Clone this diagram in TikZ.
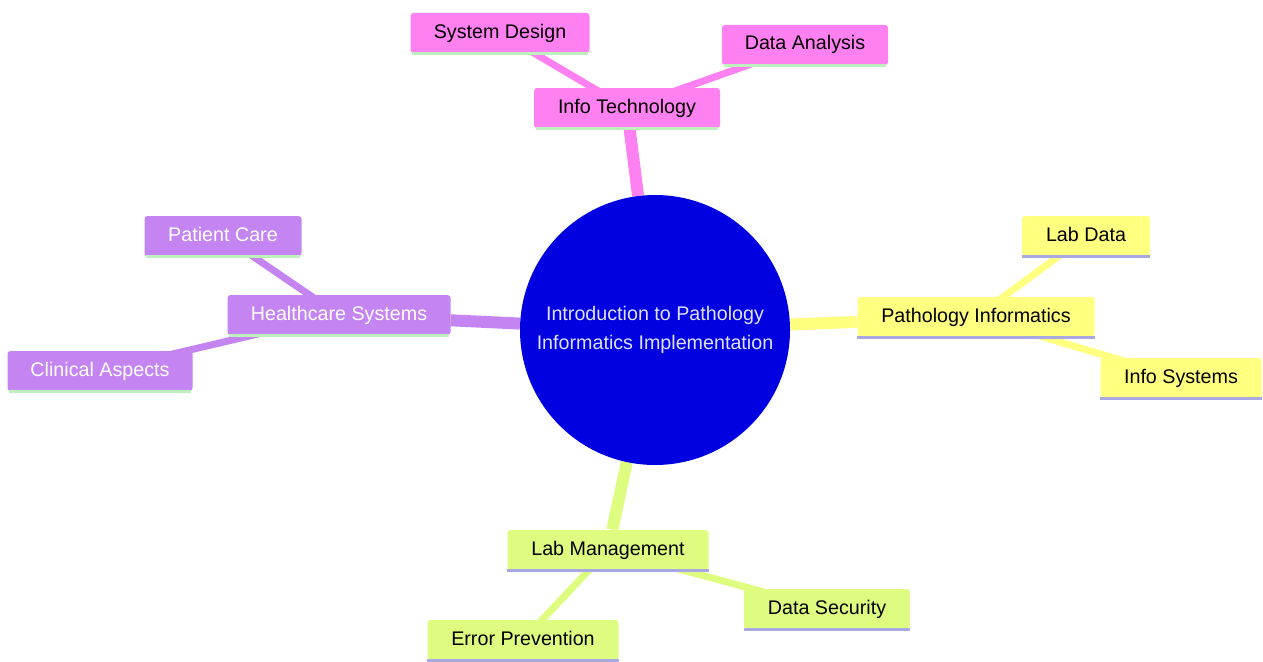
\documentclass[tikz,border=0pt]{standalone}
\usepackage{fontspec}
\setmainfont{Liberation Sans}
\usetikzlibrary{backgrounds}
\definecolor{cmag}{RGB}{255,128,240}
\definecolor{cpur}{RGB}{196,132,242}
\definecolor{cyel}{RGB}{255,255,128}
\definecolor{cgrn}{RGB}{221,252,128}
\definecolor{ulgreen}{RGB}{190,240,190}
\definecolor{ullav}{RGB}{168,168,226}
\definecolor{cblue}{RGB}{0,0,224}
\definecolor{ctxt}{RGB}{225,225,255}
\tikzset{
  box/.style={rectangle, rounded corners=3pt, inner sep=0pt, minimum height=40pt,
    font=\fontsize{19.7}{22}\selectfont, text height=14pt, text depth=4pt},
  magbox/.style={box, fill=cmag, text=black},
  purbox/.style={box, fill=cpur, text=white},
  yelbox/.style={box, fill=cyel, text=black},
  grnbox/.style={box, fill=cgrn, text=black},
  mainlink/.style={line width=12pt},
  leaflink/.style={line width=7pt},
  uline/.style={line width=3pt}
}
\begin{document}
\begin{tikzpicture}[x=1pt,y=-1pt]
\useasboundingbox (0,0) rectangle (1263,661);

\node[circle, fill=cblue, minimum size=270pt, inner sep=0pt, text=ctxt, align=center,
  font=\fontsize{19.7}{29.5}\selectfont] (root) at (655,330)
  {Introduction to Pathology\\Informatics Implementation};

\node[magbox, minimum width=186pt] (it) at (627,108) {Info Technology};
\node[magbox, minimum width=179pt] (sd) at (500,33) {System Design};
\node[magbox, minimum width=166pt] (da) at (805,45) {Data Analysis};

\node[purbox, minimum width=223pt] (hs) at (339,315) {Healthcare Systems};
\node[purbox, minimum width=157pt] (pc) at (223,236) {Patient Care};
\node[purbox, minimum width=185pt] (ca) at (100,371) {Clinical Aspects};

\node[yelbox, minimum width=237pt] (pi) at (976,317) {Pathology Informatics};
\node[yelbox, minimum width=128pt] (ld) at (1086,236) {Lab Data};
\node[yelbox, minimum width=161pt] (is) at (1181,378) {Info Systems};

\node[grnbox, minimum width=201pt] (lm) at (608,550) {Lab Management};
\node[grnbox, minimum width=191pt] (ep) at (523,640) {Error Prevention};
\node[grnbox, minimum width=166pt] (ds) at (827,609) {Data Security};

\begin{pgfonlayer}{background}
\fill[white] (0,0) rectangle (1263,661);
\draw[mainlink, cmag] (root) -- (it);
\draw[mainlink, cpur] (root) -- (hs);
\draw[mainlink, cyel] (root) -- (pi);
\draw[mainlink, cgrn] (root) -- (lm);
\draw[leaflink, cmag] (it.center) -- (sd.center);
\draw[leaflink, cmag] (it.center) -- (da.center);
\draw[leaflink, cpur] (hs.center) -- (pc.center);
\draw[leaflink, cpur] (hs.center) -- (ca.center);
\draw[leaflink, cyel] (pi.center) -- (ld.center);
\draw[leaflink, cyel] (pi.center) -- (is.center);
\draw[leaflink, cgrn] (lm.center) -- (ep.center);
\draw[leaflink, cgrn] (lm.center) -- (ds.center);
\end{pgfonlayer}

\foreach \n in {it,sd,da,hs,pc,ca}
  \draw[uline, ulgreen] ([xshift=2pt]\n.south west) -- ([xshift=-2pt]\n.south east);
\foreach \n in {pi,ld,is,lm,ep,ds}
  \draw[uline, ullav] (\n.south west) -- (\n.south east);
\end{tikzpicture}
\end{document}
